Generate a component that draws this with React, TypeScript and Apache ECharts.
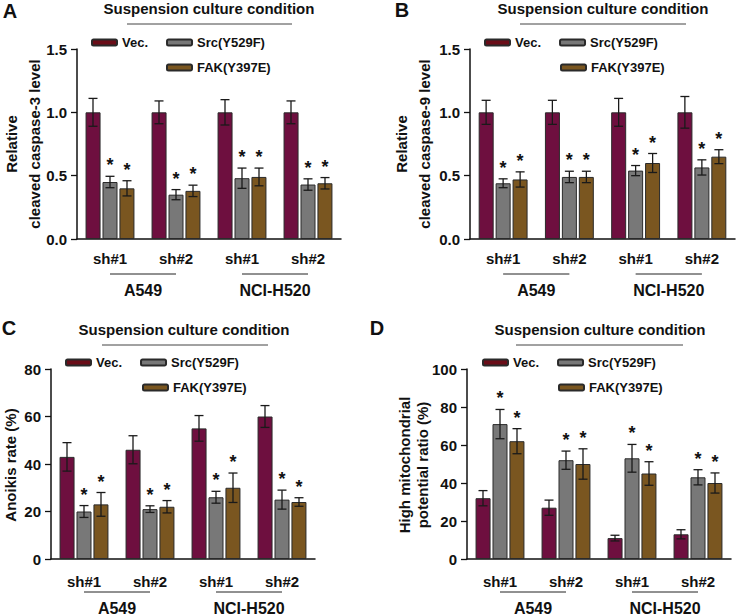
import React, { useEffect, useRef } from 'react';
import * as echarts from 'echarts';

// ---------- data ----------
const categories = ['sh#1', 'sh#2', 'sh#1', 'sh#2'];
const cellLines = ['A549', 'NCI-H520'];
const seriesNames = ['Vec.', 'Src(Y529F)', 'FAK(Y397E)'];
const titleText = 'Suspension culture condition';

const casp3Vec = [1.0, 1.0, 1.0, 1.0];
const casp3VecErr = [0.11, 0.09, 0.1, 0.09];
const casp3Src = [0.45, 0.35, 0.48, 0.43];
const casp3SrcErr = [0.045, 0.04, 0.08, 0.045];
const casp3Fak = [0.4, 0.38, 0.49, 0.44];
const casp3FakErr = [0.06, 0.045, 0.07, 0.045];

const casp9Vec = [1.0, 1.0, 1.0, 1.0];
const casp9VecErr = [0.095, 0.095, 0.11, 0.125];
const casp9Src = [0.44, 0.49, 0.54, 0.565];
const casp9SrcErr = [0.035, 0.045, 0.04, 0.06];
const casp9Fak = [0.47, 0.49, 0.6, 0.65];
const casp9FakErr = [0.06, 0.045, 0.075, 0.055];

const anoikisVec = [43, 46, 55, 60];
const anoikisVecErr = [6, 5.9, 5.4, 4.6];
const anoikisSrc = [20, 21, 26, 25];
const anoikisSrcErr = [2.5, 1.4, 2.5, 4];
const anoikisFak = [23, 22, 30, 24];
const anoikisFakErr = [5, 2.6, 6.2, 1.8];

const mitoVec = [32, 27, 11, 13];
const mitoVecErr = [4, 4, 1.5, 2.4];
const mitoSrc = [71, 52, 53, 43];
const mitoSrcErr = [7.7, 4.8, 7.3, 4];
const mitoFak = [62, 50, 45, 40];
const mitoFakErr = [6.6, 8, 6.2, 5.3];

const significant = [false, true, true];

// ---------- style / layout ----------
const FONT = "'Liberation Sans', Arial, Helvetica, sans-serif";
const barColors = ['#6e0f3f', '#787878', '#7a5620'];
const legendVecColor = '#6a0d18';
const BAR_W = 15;
const BAR_STEP = 17;

const panels = [
  {
    letter: 'A', letterPos: [10, 11],
    yName: 'Relative\ncleaved caspase-3 level', nameLH: 23, namePos: [23, 144],
    grid: { left: 77, top: 49, width: 264, height: 190 },
    yMax: 1.5, yInt: 0.5, dec: 1,
    values: [[casp3Vec, casp3VecErr], [casp3Src, casp3SrcErr], [casp3Fak, casp3FakErr]],
    titlePos: [209, 8], titleLine: [127, 292, 24],
    legend1: [91, 36], legend2: [166, 61],
    labelMargin: 12, underY: 274, groupY: 290,
  },
  {
    letter: 'B', letterPos: [402, 10],
    yName: 'Relative\ncleaved caspase-9 level', nameLH: 23, namePos: [413, 144],
    grid: { left: 470, top: 49, width: 265, height: 190 },
    yMax: 1.5, yInt: 0.5, dec: 1,
    values: [[casp9Vec, casp9VecErr], [casp9Src, casp9SrcErr], [casp9Fak, casp9FakErr]],
    titlePos: [603, 8], titleLine: [520, 686, 24],
    legend1: [484, 36], legend2: [560, 61],
    labelMargin: 12, underY: 274, groupY: 290,
  },
  {
    letter: 'C', letterPos: [9, 328],
    yName: 'Anoikis rate (%)', nameLH: 18, namePos: [10, 465],
    grid: { left: 51, top: 369, width: 264, height: 190 },
    yMax: 80, yInt: 20, dec: 0,
    values: [[anoikisVec, anoikisVecErr], [anoikisSrc, anoikisSrcErr], [anoikisFak, anoikisFakErr]],
    titlePos: [184, 329], titleLine: [102, 268, 345],
    legend1: [65, 356], legend2: [142, 381],
    labelMargin: 15, underY: 592, groupY: 608,
  },
  {
    letter: 'D', letterPos: [377, 328],
    yName: 'High mitochondrial\npotential ratio (%)', nameLH: 18, namePos: [413, 465],
    grid: { left: 467, top: 369, width: 264, height: 190 },
    yMax: 100, yInt: 20, dec: 0,
    values: [[mitoVec, mitoVecErr], [mitoSrc, mitoSrcErr], [mitoFak, mitoFakErr]],
    titlePos: [600, 329], titleLine: [516, 683, 345],
    legend1: [482, 356], legend2: [558, 381],
    labelMargin: 15, underY: 592, groupY: 608,
  },
];

function textEl(text: string, x: number, y: number, size: number, extra: any = {}) {
  return {
    type: 'text',
    x, y,
    rotation: extra.rotation || 0,
    style: {
      text, x: 0, y: 0,
      font: `bold ${size}px ${FONT}`,
      fill: '#111',
      align: extra.align || 'center', textAlign: extra.align || 'center',
      verticalAlign: 'middle', textVerticalAlign: 'middle',
      lineHeight: extra.lineHeight,
    },
  };
}

function lineEl(x1: number, y1: number, x2: number, y2: number, color = '#222', w = 1) {
  return { type: 'line', shape: { x1, y1, x2, y2 }, style: { stroke: color, lineWidth: w } };
}

function buildOption() {
  const grid: any[] = [];
  const xAxis: any[] = [];
  const yAxis: any[] = [];
  const series: any[] = [];
  const legend: any[] = [];
  const graphic: any[] = [];

  panels.forEach((p, pi) => {
    grid.push({ ...p.grid, containLabel: false });
    xAxis.push({
      type: 'category', gridIndex: pi, data: categories,
      axisLine: { lineStyle: { color: '#111', width: 1.5 } },
      axisTick: { alignWithLabel: true, length: 9, lineStyle: { color: '#111', width: 1.3 } },
      axisLabel: { interval: 0, margin: p.labelMargin, fontSize: 15, fontWeight: 'bold', color: '#111', fontFamily: FONT },
      splitLine: { show: false },
    });
    yAxis.push({
      type: 'value', gridIndex: pi, min: 0, max: p.yMax, interval: p.yInt,
      axisLine: { show: true, lineStyle: { color: '#111', width: 1.5 } },
      axisTick: { show: true, length: 6, lineStyle: { color: '#111', width: 1.3 } },
      axisLabel: {
        margin: 10, fontSize: 15, fontWeight: 'bold', color: '#111', fontFamily: FONT,
        formatter: (v: number) => v.toFixed(p.dec),
      },
      splitLine: { show: false },
    });

    const errData: any[] = [];
    p.values.forEach(([vals, errs], si) => {
      series.push({
        type: 'bar', name: seriesNames[si], xAxisIndex: pi, yAxisIndex: pi,
        data: vals, barWidth: BAR_W, barGap: '13%',
        itemStyle: { color: barColors[si], borderColor: '#2a2a2a', borderWidth: 1 },
      });
      vals.forEach((v: number, ci: number) => errData.push([ci, v, errs[ci], si]));
    });
    series.push({
      type: 'custom', xAxisIndex: pi, yAxisIndex: pi, z: 5,
      encode: { x: 0, y: 1 },
      data: errData,
      renderItem: (params: any, api: any) => {
        const cat = api.value(0);
        const val = api.value(1);
        const err = api.value(2);
        const s = api.value(3);
        const top = api.coord([cat, val + err]);
        const bot = api.coord([cat, val - err]);
        const x = top[0] + (s - 1) * BAR_STEP;
        const st = { stroke: '#1a1a1a', lineWidth: 1.3 };
        const cap = 4.5;
        const children: any[] = [
          { type: 'line', shape: { x1: x, y1: top[1], x2: x, y2: bot[1] }, style: st },
          { type: 'line', shape: { x1: x - cap, y1: top[1], x2: x + cap, y2: top[1] }, style: st },
          { type: 'line', shape: { x1: x - cap, y1: bot[1], x2: x + cap, y2: bot[1] }, style: st },
        ];
        if (significant[s]) {
          children.push({
            type: 'text',
            style: {
              text: '*', x, y: top[1] - 2,
              font: `bold 18px ${FONT}`, fill: '#111',
              align: 'center', textAlign: 'center',
              verticalAlign: 'bottom', textVerticalAlign: 'bottom',
            },
          });
        }
        return { type: 'group', children };
      },
    });

    const legendCommon = {
      orient: 'horizontal', padding: 0, itemWidth: 25, itemHeight: 6, itemGap: 18,
      selectedMode: false,
      textStyle: { fontSize: 13, fontWeight: 'bold', color: '#111', fontFamily: FONT },
    };
    legend.push({
      ...legendCommon, left: p.legend1[0], top: p.legend1[1],
      data: [{ name: seriesNames[0], itemStyle: { color: legendVecColor } }, seriesNames[1]],
    });
    legend.push({ ...legendCommon, left: p.legend2[0], top: p.legend2[1], data: [seriesNames[2]] });

    // panel decorations
    graphic.push(textEl(p.letter, p.letterPos[0], p.letterPos[1], 20));
    graphic.push(textEl(titleText, p.titlePos[0], p.titlePos[1], 15));
    graphic.push(lineEl(p.titleLine[0], p.titleLine[2], p.titleLine[1], p.titleLine[2], '#444', 1));
    graphic.push(textEl(p.yName, p.namePos[0], p.namePos[1], 15, { rotation: Math.PI / 2, lineHeight: p.nameLH }));

    const step = p.grid.width / categories.length;
    const centers = categories.map((_, i) => p.grid.left + step * (i + 0.5));
    cellLines.forEach((name, gi) => {
      const c1 = centers[gi * 2];
      const c2 = centers[gi * 2 + 1];
      graphic.push(lineEl(c1, p.underY, c2, p.underY, '#222', 1));
      graphic.push(textEl(name, (c1 + c2) / 2, p.groupY, 16));
    });
  });

  return { animation: false, grid, xAxis, yAxis, series, legend, graphic };
}

export default function App() {
  const ref = useRef<HTMLDivElement>(null);
  useEffect(() => {
    if (!ref.current) return;
    const chart = echarts.init(ref.current, undefined, { renderer: 'svg' });
    chart.setOption(buildOption() as any);
    return () => chart.dispose();
  }, []);
  return (
    <div
      ref={ref}
      style={{ position: 'absolute', left: 0, top: 0, width: 736, height: 616, background: '#fff' }}
    />
  );
}
